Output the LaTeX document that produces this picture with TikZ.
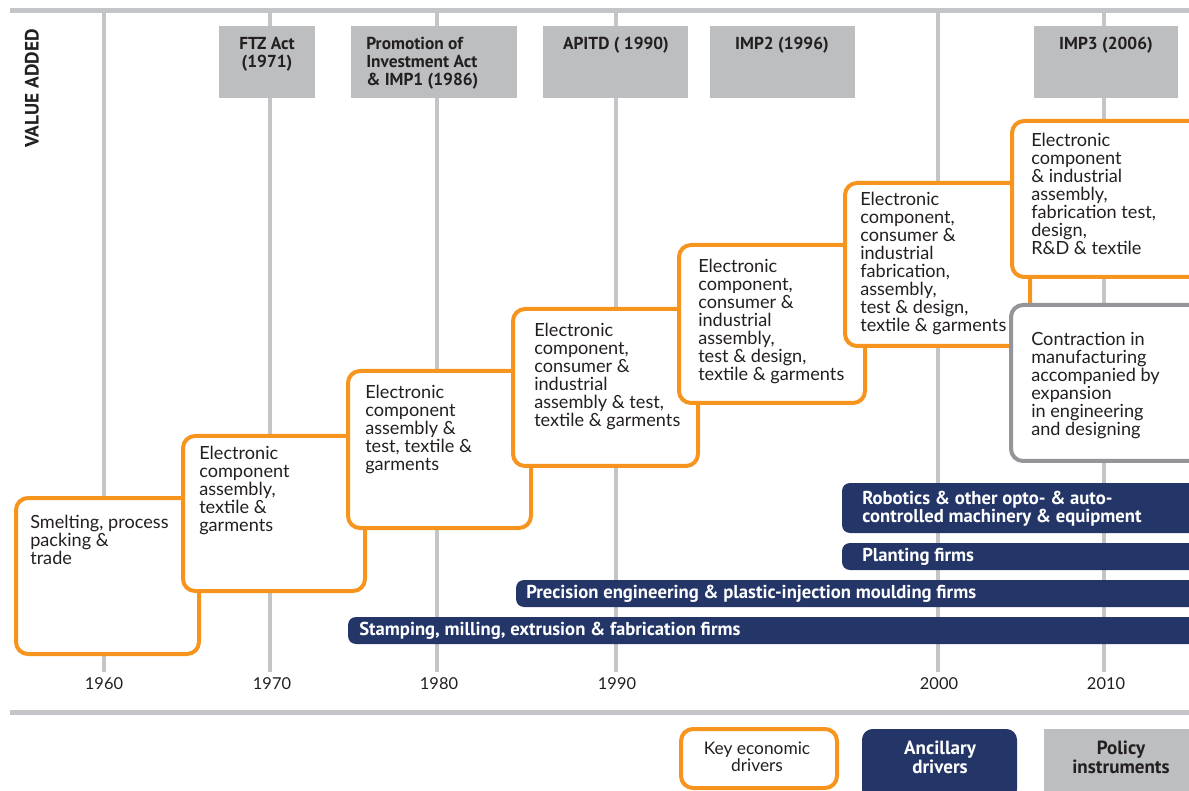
\documentclass[tikz,border=0pt]{standalone}
\usepackage{fontspec}
\setmainfont{Lato}
\newfontfamily\labfam{PT Sans}
\definecolor{orng}{HTML}{F7941D}
\definecolor{navy}{HTML}{243668}
\definecolor{pgrey}{HTML}{BCBEC0}
\definecolor{lgrey}{HTML}{C4C5C8}
\definecolor{dgrey}{HTML}{939598}
\definecolor{txt}{HTML}{231F20}
\newcommand\mybodyfont{\fontsize{13.6}{13.5}\selectfont}
\newcommand\mypolfont{\labfam\bfseries\fontsize{13}{13.4}\selectfont}
\newcommand\mybarfont{\labfam\bfseries\fontsize{14}{13.5}\selectfont}
\newcommand\myyearfont{\fontsize{12.3}{13}\selectfont}
\newcommand\mylegfont{\fontsize{13}{12.75}\selectfont}
\newcommand\mylegbfont{\labfam\bfseries\fontsize{14.3}{12.9}\selectfont}
\begin{document}
\begin{tikzpicture}[x=0.75pt,y=-0.75pt,
  stagebox/.style={draw=orng, line width=3pt, rounded corners=9pt, fill=white},
  contrbox/.style={draw=dgrey, line width=3pt, rounded corners=9pt, fill=white},
  policybox/.style={fill=pgrey},
  navybar/.style={fill=navy, rounded corners=6pt},
  gridline/.style={draw=lgrey, line width=3pt},
  rulebar/.style={draw=lgrey, line width=3.75pt},
  bodytxt/.style={anchor=north west, align=left, inner sep=0pt, text=txt, font=\mybodyfont},
  poltxt/.style={anchor=north, align=center, inner sep=0pt, text=txt, font=\mypolfont},
  bartxt/.style={anchor=north west, align=left, inner sep=0pt, text=white, font=\mybarfont},
  yeartxt/.style={inner sep=0pt, text=txt, font=\myyearfont},
  legtxt/.style={anchor=north, align=center, inner sep=0pt, text=txt, font=\mylegfont},
  legbtxt/.style={anchor=north, align=center, inner sep=0pt, font=\mylegbfont},
]
\useasboundingbox (0,0) rectangle (1189,791);
\clip (0,0) rectangle (1189,791);

% grid
\foreach \gx in {104,270,437,616,938,1104}
  \draw[gridline] (\gx,11) -- (\gx,672);
\draw[rulebar] (10,11) -- (1195,11);
\draw[rulebar] (10,712) -- (1195,712);

% value added
\node[inner sep=0pt, rotate=90, text=txt, font=\labfam\bfseries\fontsize{14.5}{14}\selectfont] (va) at (32,88.5) {VALUE ADDED};

% years
\node[yeartxt] (y60) at (104,684) {1960};
\node[yeartxt] (y70) at (272,684) {1970};
\node[yeartxt] (y80) at (439,684) {1980};
\node[yeartxt] (y90) at (617,684) {1990};
\node[yeartxt] (y00) at (939,684) {2000};
\node[yeartxt] (y10) at (1106,684) {2010};

% policy boxes
\path[policybox] (219,26) rectangle (315,98);
\path[policybox] (351,26) rectangle (517,98);
\path[policybox] (543,26) rectangle (688,98);
\path[policybox] (710,26) rectangle (855,98);
\path[policybox] (1034,26) rectangle (1178,98);
\node[poltxt] (p1) at (267,37) {FTZ Act\\(1971)};
\node[poltxt, anchor=north west, align=left] (p2) at (366,37) {Promotion of\\Investment Act\\\& IMP1 (1986)};
\node[poltxt] (p3) at (616,37) {APITD ( 1990)};
\node[poltxt] (p4) at (782,37) {IMP2 (1996)};
\node[poltxt] (p5) at (1106,37) {IMP3 (2006)};

% ancillary bars
\path[navybar] (842,483) rectangle (1210,533);
\path[navybar] (842,543) rectangle (1210,570);
\path[navybar] (516,580) rectangle (1210,607);
\path[navybar] (348,617) rectangle (1210,644);
\node[bartxt] (b1) at (862,491) {Robotics \& other opto- \& auto-\\controlled machinery \& equipment};
\node[bartxt] (b2) at (862,548) {Planting firms};
\node[bartxt] (b3) at (526,585) {Precision engineering \& plastic-injection moulding firms};
\node[bartxt] (b4) at (359,622) {Stamping, milling, extrusion \& fabrication firms};

% stages
\path[stagebox] (16,498) rectangle (199,654);
\node[bodytxt] (s1) at (30,515) {Smelting, process\\packing \&\\trade};
\path[stagebox] (183,436) rectangle (365,591);
\node[bodytxt] (s2) at (199,446) {Electronic\\component\\assembly,\\textile \&\\garments};
\path[stagebox] (348,371) rectangle (531,528);
\node[bodytxt] (s3) at (365,385) {Electronic\\component\\assembly \&\\test, textile \&\\garments};
\path[stagebox] (513,309) rectangle (698,466);
\node[bodytxt] (s4) at (534,323) {Electronic\\component,\\consumer \&\\industrial\\assembly \& test,\\textile \& garments};
\path[stagebox] (679,245) rectangle (865,403);
\node[bodytxt] (s5) at (698,259) {Electronic\\component,\\consumer \&\\industrial\\assembly,\\test \& design,\\textile \& garments};
\path[stagebox] (845,183) rectangle (1030,346);
\node[bodytxt] (s6) at (860,192) {Electronic\\component,\\consumer \&\\industrial\\fabrication,\\assembly,\\test \& design,\\textile \& garments};
\path[stagebox] (1012,121) rectangle (1210,277);
\node[bodytxt] (s7) at (1031,133) {Electronic\\component\\\& industrial\\assembly,\\fabrication test,\\design,\\R\&D \& textile};
\path[contrbox] (1011,305) rectangle (1210,461);
\node[bodytxt] (s8) at (1031,332) {Contraction in\\manufacturing\\accompanied by\\expansion\\in engineering\\and designing};

% legend
\path[stagebox] (681,729) rectangle (837,788);
\node[legtxt] (l1) at (757,742) {Key economic\\drivers};
\path[navybar, rounded corners=8pt] (862,729) rectangle (1017,800);
\node[legbtxt, text=white] (l2) at (940,741) {Ancillary\\drivers};
\path[policybox] (1044,729) rectangle (1195,795);
\node[legbtxt, text=txt] (l3) at (1121,741) {Policy\\instruments};
\end{tikzpicture}
\end{document}
